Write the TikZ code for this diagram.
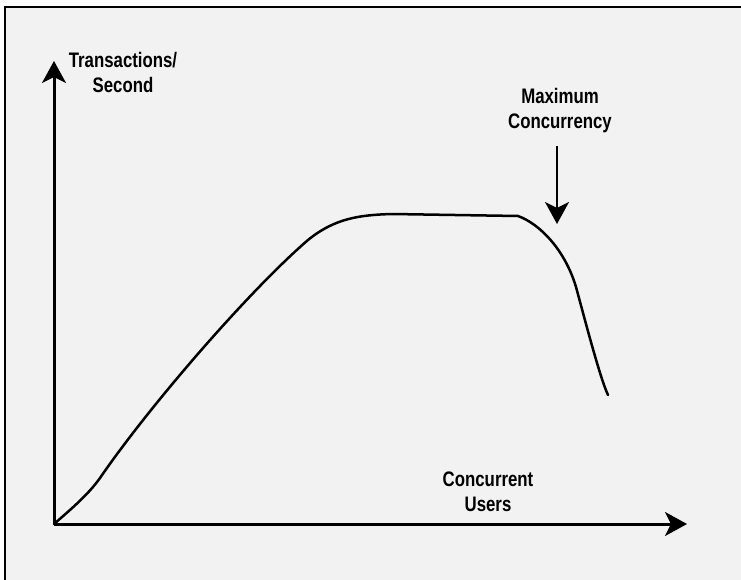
\documentclass[tikz,border=0pt]{standalone}
\usepackage{fontspec}
\setmainfont{Liberation Sans}
\newfontfamily\condfont[FakeStretch=0.8]{Liberation Sans Bold}
\usetikzlibrary{arrows.meta}
\definecolor{bgray}{HTML}{F2F2F2}
\tikzset{
  lbl/.style={font=\condfont\fontsize{21}{25}\selectfont, align=center, inner sep=0pt},
  axis/.style={line width=3pt, -{Stealth[length=22pt,width=24pt,inset=6pt]}},
  pointer/.style={line width=2pt, -{Stealth[length=22pt,width=24pt,inset=6pt]}},
  curve/.style={line width=2.5pt, line join=round, line cap=round}
}
\begin{document}
\begin{tikzpicture}[x=1pt,y=-1pt]
\useasboundingbox (0,0) rectangle (741,580);
\clip (0,0) rectangle (741,580);
\fill[white] (0,0) rectangle (741,580);
\draw[line width=2.5pt, fill=bgray] (5,7) rectangle (760,600);
% coordinates
\coordinate (O) at (54,524);
\coordinate (Ytip) at (54,61);
\coordinate (Xtip) at (687,524);
\coordinate (Mtop) at (557,146);
\coordinate (Mtip) at (557,224);
% axes
\draw[axis] (O) -- (Ytip);
\draw[axis] (O) -- (Xtip);
% labels
\node[lbl] (ylab) at (123,72) {Transactions/\\Second};
\node[lbl] (xlab) at (488,492) {Concurrent\\Users};
\node[lbl] (mlab) at (560,111) {Maximum\\Concurrency};
% pointer arrow
\draw[pointer] (Mtop) -- (Mtip);
% curve
\draw[curve] (O) .. controls (70,510) and (88,495) .. (100,478)
  .. controls (150,405) and (250,290) .. (308,240)
  .. controls (335,218) and (360,215) .. (392,214)
  -- (518,216)
  .. controls (540,224) and (565,250) .. (576,287)
  .. controls (585,320) and (600,378) .. (608,395);
\end{tikzpicture}
\end{document}
